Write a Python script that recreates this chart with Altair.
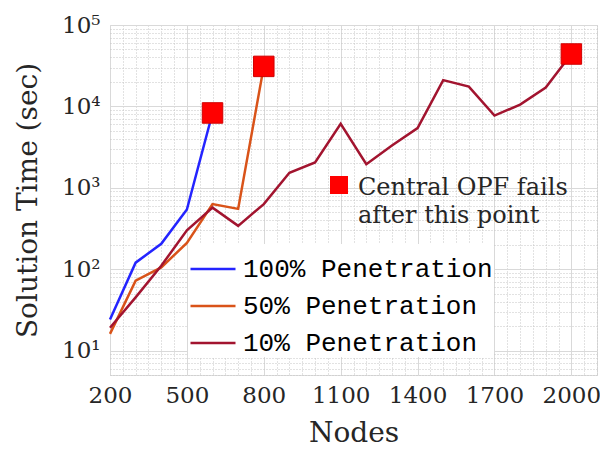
import altair as alt
import pandas as pd

# ---- data ----
series_names = ["100% Penetration", "50% Penetration", "10% Penetration"]
series_colors = ["#2424ff", "#d95319", "#a2142f"]

nodes_100 = [200, 300, 400, 500, 600]
time_100 = [24, 120, 205, 540, 8300]

nodes_50 = [200, 300, 400, 500, 600, 700, 800]
time_50 = [16, 72, 105, 210, 630, 550, 31000]

nodes_10 = [200, 300, 400, 500, 600, 700, 800, 900, 1000, 1100, 1200, 1300,
            1400, 1500, 1600, 1700, 1800, 1900, 2000]
time_10 = [19, 45, 110, 300, 570, 340, 630, 1530, 2050, 6100, 1950, 3300,
           5400, 21000, 17500, 7700, 10500, 17000, 44000]

fail_nodes = [600, 800, 2000]
fail_times = [8300, 31000, 44000]
fail_label = ["Central OPF fails", "after this point"]

x_major = [200, 500, 800, 1100, 1400, 1700, 2000]
y_major = [10, 100, 1000, 10000, 100000]

# ---- tables ----
rows = []
for name, xs, ys in zip(series_names, [nodes_100, nodes_50, nodes_10],
                        [time_100, time_50, time_10]):
    for i, (xv, yv) in enumerate(zip(xs, ys)):
        rows.append({"series": name, "nodes": xv, "time": yv, "i": i})
lines_df = pd.DataFrame(rows)
fail_df = pd.DataFrame({"nodes": fail_nodes, "time": fail_times,
                        "event": ["fail"] * len(fail_nodes)})

x_vals = list(range(200, 2101, 50))
y_vals = []
for d in [1, 10, 100, 1000, 10000]:
    for m in range(1, 10):
        v = m * d
        if 5 <= v <= 100000:
            y_vals.append(v)
y_vals.append(100000)

serif = "DejaVu Serif"
ink = "#262626"

x_major_test = "indexof([" + ",".join(str(v) for v in x_major) + "], datum.value) >= 0"
y_major_test = "indexof([" + ",".join(str(v) for v in y_major) + "], datum.value) >= 0"
sup = {10: "10¹", 100: "10²", 1000: "10³", 10000: "10⁴", 100000: "10⁵"}
y_label_expr = " : ".join(f"datum.value == {k} ? '{v}'" for k, v in sup.items()) + " : ''"

x_scale = alt.Scale(domain=[200, 2100], nice=False, zero=False)
y_scale = alt.Scale(type="log", domain=[5, 100000], nice=False)

x_axis = alt.Axis(
    values=x_vals, title="Nodes",
    labelExpr=f"{x_major_test} ? datum.value : ''",
    labelOverlap=False, labelFlush=False, labelBound=False,
    labelFont=serif, labelFontSize=23, labelColor=ink,
    labelPadding=9, titleFont=serif, titleFontSize=28, titleFontWeight="normal",
    titleColor=ink, titlePadding=12, ticks=False, domain=False,
    gridColor={"condition": {"test": x_major_test, "value": "#d9d9d9"}, "value": "#c4c4c4"},
    gridDash={"condition": {"test": x_major_test, "value": []}, "value": [1, 2]},
    gridWidth=1,
)
y_axis = alt.Axis(
    values=y_vals, title="Solution Time (sec)",
    labelExpr=y_label_expr,
    labelOverlap=False, labelBound=False, labelFont=serif, labelFontSize=23,
    labelColor=ink, labelPadding=10, titleFont=serif, titleFontSize=28,
    titleFontWeight="normal", titleColor=ink, titlePadding=19, ticks=False,
    domain=False,
    gridColor={"condition": {"test": y_major_test, "value": "#d9d9d9"}, "value": "#c4c4c4"},
    gridDash={"condition": {"test": y_major_test, "value": []}, "value": [1, 2]},
    gridWidth=1,
)

lines = alt.Chart(lines_df).mark_line(strokeWidth=2.5).encode(
    x=alt.X("nodes:Q", scale=x_scale, axis=x_axis),
    y=alt.Y("time:Q", scale=y_scale, axis=y_axis),
    color=alt.Color(
        "series:N",
        scale=alt.Scale(domain=series_names, range=series_colors),
        sort=series_names,
        legend=alt.Legend(
            orient="none", legendX=78, legendY=219, title=None,
            labelFont="Liberation Mono", labelFontSize=26, labelColor="black",
            labelLimit=600, symbolType="stroke", symbolSize=2025,
            symbolStrokeWidth=2.5, fillColor="white", padding=1, rowPadding=0,
            labelOffset=6,
        ),
    ),
    order="i:Q",
)

markers = alt.Chart(fail_df).mark_point(filled=True, opacity=1, size=420,
                                        color="#ff0000", stroke="#d00000",
                                        strokeWidth=1).encode(
    x=alt.X("nodes:Q", scale=x_scale, axis=x_axis),
    y=alt.Y("time:Q", scale=y_scale, axis=y_axis),
    shape=alt.Shape(
        "event:N",
        scale=alt.Scale(domain=["fail"], range=["square"]),
        legend=alt.Legend(
            orient="none", legendX=220, legendY=151,
            title=fail_label, titleOrient="right", titleFont=serif,
            titleFontSize=24, titleFontWeight="normal", titleColor=ink,
            titleLineHeight=28, titlePadding=6, titleAnchor="start",
            titleLimit=600, labelExpr="''", symbolSize=324,
            symbolFillColor="#ff0000", symbolStrokeColor="#ff0000",
            symbolStrokeWidth=0, padding=0,
        ),
    ),
)

chart = alt.layer(lines, markers).resolve_legend(
    color="independent", shape="independent"
).properties(
    width=487, height=350,
    padding={"left": 110, "top": 25, "right": 3, "bottom": 75},
    autosize="none",
).configure_view(stroke=ink, strokeWidth=1.5).configure(background="white")

chart.save("out.html", embed_options={"renderer": "svg", "actions": False})
